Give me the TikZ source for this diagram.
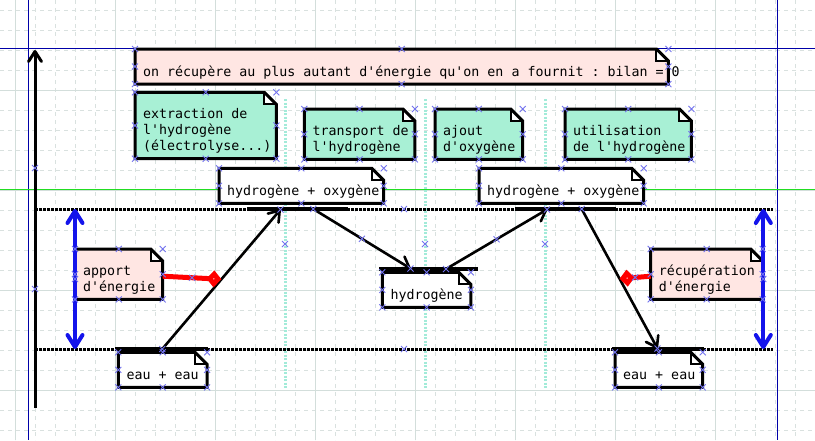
\documentclass[tikz,border=0pt]{standalone}
\usepackage{fontspec}
\setmonofont{DejaVu Sans Mono}
\usetikzlibrary{arrows.meta}
\pgfdeclarelayer{gridlayer}
\pgfdeclarelayer{notelayer}
\pgfsetlayers{gridlayer,notelayer,main}
\newcommand\notefont{\ttfamily\fontsize{13.3}{16}\selectfont}
\newcommand\notetext[2]{\makebox[#1][l]{\hspace*{8pt}\begin{tabular}[b]{@{}l@{}}#2\end{tabular}}}
\definecolor{notepink}{HTML}{FFE6E3}
\definecolor{notegreen}{HTML}{A8F0D5}
\definecolor{sepgreen}{HTML}{A3EBD9}
\definecolor{gridmaj}{HTML}{D3DEDB}
\definecolor{gridmin}{HTML}{D9E1DF}
\definecolor{framenavy}{HTML}{0000A8}
\definecolor{framegreen}{HTML}{22DD22}
\definecolor{energyblue}{HTML}{1414EB}
\definecolor{crosscol}{HTML}{7373EE}
\begin{document}
\begin{tikzpicture}[x=1pt,y=-1pt,
  note/.style={inner sep=0pt, anchor=north west, text depth=7.7pt, font=\notefont},
  oneline/.style={text height=27pt},
  twoline/.style={text height=42.3pt},
  threeline/.style={text height=58.3pt},
  noteedge/.style={draw=black, line width=3pt, line join=miter},
  foldedge/.style={draw=black, line width=2pt},
  gridminor/.style={draw=gridmin, line width=1pt, dash pattern=on 4pt off 4pt},
  gridmajor/.style={draw=gridmaj, line width=1pt},
  frameline/.style={draw=framenavy, line width=1pt},
  separator/.style={draw=sepgreen, line width=3pt, dash pattern=on 2pt off 1.5pt},
  level/.style={draw=black, line width=3pt, dash pattern=on 2.5pt off 1.5pt},
  bar/.style={draw=black, line width=3.5pt},
  flow/.style={draw=black, line width=2.6pt, -{Straight Barb[length=10pt,width=14pt,round]}},
  axisarrow/.style={draw=black, line width=3pt, -{Straight Barb[length=10pt,width=13pt,round]}},
  span/.style={draw=energyblue, line width=4pt, {Straight Barb[length=12pt,width=15pt,round]}-{Straight Barb[length=12pt,width=15pt,round]}},
  energy/.style={draw=red, line width=5pt, -{Diamond[fill=white,length=15pt,width=17pt,line width=5pt]}},
  crossmk/.style={draw=crosscol, line width=0.9pt}
]
\useasboundingbox (0,0) rectangle (815,440);

\begin{pgfonlayer}{gridlayer}
  \fill[white] (0,0) rectangle (815,440);
  \foreach \x in {15,35,...,815} \draw[gridminor] (\x,0) -- (\x,440);
  \foreach \y in {10,30,...,430} \draw[gridminor] (0,\y) -- (815,\y);
  \foreach \x in {15,115,...,815} \draw[gridmajor] (\x,0) -- (\x,440);
  \foreach \y in {90,190,290,390} \draw[gridmajor] (0,\y) -- (815,\y);
  \draw[frameline] (0,48) -- (815,48);
  \draw[frameline] (28,0) -- (28,440);
  \draw[frameline] (777,0) -- (777,440);
  \draw[frameline, draw=framegreen] (0,189.5) -- (815,189.5);
  \draw[separator] (285,99) -- (285,389);
  \draw[separator] (425,99) -- (425,389);
  \draw[separator] (545,99) -- (545,389);
\end{pgfonlayer}

% notes
\node[note,oneline] (bilan) at (135,49) {\notetext{533pt}{on récupère au plus autant d'énergie qu'on en a fournit : bilan = 0}};
\node[note,threeline] (extraction) at (135,92.3) {\notetext{141pt}{extraction de\\l'hydrogène\\(électrolyse...)}};
\node[note,twoline] (transport) at (304.3,109) {\notetext{110.2pt}{transport de\\l'hydrogène}};
\node[note,twoline] (ajout) at (435,109) {\notetext{87.3pt}{ajout\\d'oxygène}};
\node[note,twoline] (utilisation) at (565,109) {\notetext{126pt}{utilisation\\de l'hydrogène}};
\node[note,oneline] (hox1) at (219,168.3) {\notetext{164.3pt}{hydrogène + oxygène}};
\node[note,oneline] (hox2) at (479,168.3) {\notetext{164.3pt}{hydrogène + oxygène}};
\node[note,twoline] (apport) at (75,249) {\notetext{87.3pt}{apport\\d'énergie}};
\node[note,twoline] (recup) at (650.7,249) {\notetext{111.6pt}{récupération\\d'énergie}};
\node[note,oneline] (hydro) at (382.3,272.3) {\notetext{88.2pt}{hydrogène}};
\node[note,oneline] (eau1) at (118.3,352.3) {\notetext{88.4pt}{eau + eau}};
\node[note,oneline] (eau2) at (615,352.3) {\notetext{87.3pt}{eau + eau}};

\begin{pgfonlayer}{notelayer}
\foreach \n/\c in {bilan/notepink, extraction/notegreen, transport/notegreen, ajout/notegreen, utilisation/notegreen, hox1/white, hox2/white, apport/notepink, recup/notepink, hydro/white, eau1/white, eau2/white}{
  \fill[\c] (\n.north west) -- ([xshift=-12pt]\n.north east) -- ([yshift=-12pt]\n.north east) -- (\n.south east) -- (\n.south west) -- cycle;
  \fill[white] ([xshift=-12pt]\n.north east) -- ([xshift=-12pt,yshift=-12pt]\n.north east) -- ([yshift=-12pt]\n.north east) -- cycle;
  \draw[noteedge] (\n.north west) -- ([xshift=-12pt]\n.north east) -- ([yshift=-12pt]\n.north east) -- (\n.south east) -- (\n.south west) -- cycle;
  \draw[foldedge] ([xshift=-12pt]\n.north east) -- ([xshift=-12pt,yshift=-12pt]\n.north east) -- ([yshift=-12pt]\n.north east);
}
\end{pgfonlayer}

% levels
\coordinate (upL) at (35,209);
\coordinate (upR) at (773,209);
\coordinate (loL) at (35,349);
\coordinate (loR) at (773,349);
\draw[level] (upL) -- (upR);
\draw[level] (loL) -- (loR);

% bars
\draw[bar] (247,209) -- (348,209);
\draw[bar] (515,209) -- (615.7,209);
\draw[bar] (379,269) -- (478,269);
\draw[bar] (115,349) -- (208,349);
\draw[bar] (611.7,349) -- (704.3,349);

% axis
\coordinate (axbot) at (35,408);
\coordinate (axtop) at (35,50);
\draw[axisarrow] (axbot) -- (axtop);

% energy spans
\coordinate (lsT) at (75,209);
\coordinate (lsB) at (75,349);
\coordinate (rsT) at (763.3,209);
\coordinate (rsB) at (763.3,349);
\draw[span] (lsT) -- (lsB);
\draw[span] (rsT) -- (rsB);

% flows
\coordinate (a1s) at (162.3,349);
\coordinate (a1e) at (280.5,209.5);
\coordinate (a2s) at (313.3,209);
\coordinate (a2e) at (410.5,268.5);
\coordinate (a3s) at (446,269);
\coordinate (a3e) at (547,209.5);
\coordinate (a4s) at (581.7,209);
\coordinate (a4e) at (657.5,348.5);
\draw[flow] (a1s) -- (a1e);
\draw[flow] (a2s) -- (a2e);
\draw[flow] (a3s) -- (a3e);
\draw[flow] (a4s) -- (a4e);
\path (a1s) -- (a1e) coordinate[pos=.5] (a1m);
\path (a2s) -- (a2e) coordinate[pos=.5] (a2m);
\path (a3s) -- (a3e) coordinate[pos=.5] (a3m);
\path (a4s) -- (a4e) coordinate[pos=.5] (a4m);

% energy links
\coordinate (r1s) at ([yshift=-2pt]apport.east);
\coordinate (r2s) at ([yshift=-2pt]recup.west);
\draw[energy] (r1s) -- (a1m);
\draw[energy] (r2s) -- (a4m);
\path (r1s) -- (a1m) coordinate[pos=.5] (r1m);
\path (r2s) -- (a4m) coordinate[pos=.5] (r2m);

% editor anchor marks
\foreach \n in {bilan,extraction,transport,ajout,utilisation,hox1,hox2,apport,recup,hydro,eau1,eau2}
  \foreach \a in {north west,north,north east,east,south east,south,south west,west}
    \draw[crossmk] (\n.\a) +(-3,-3) -- +(3,3) +(-3,3) -- +(3,-3);
\foreach \p in {a1s,a1e,a2s,a2e,a3s,a3e,a4s,a4e,a2m,a3m,r1m,r2m}
  \draw[crossmk] (\p) +(-3,-3) -- +(3,3) +(-3,3) -- +(3,-3);
\foreach \px/\py in {285/244,425/244,545/244,404/209,404/349,35/168,35/289,75/279,763.3/279}
  \draw[crossmk] (\px,\py) +(-3,-3) -- +(3,3) +(-3,3) -- +(3,-3);
\end{tikzpicture}
\end{document}
